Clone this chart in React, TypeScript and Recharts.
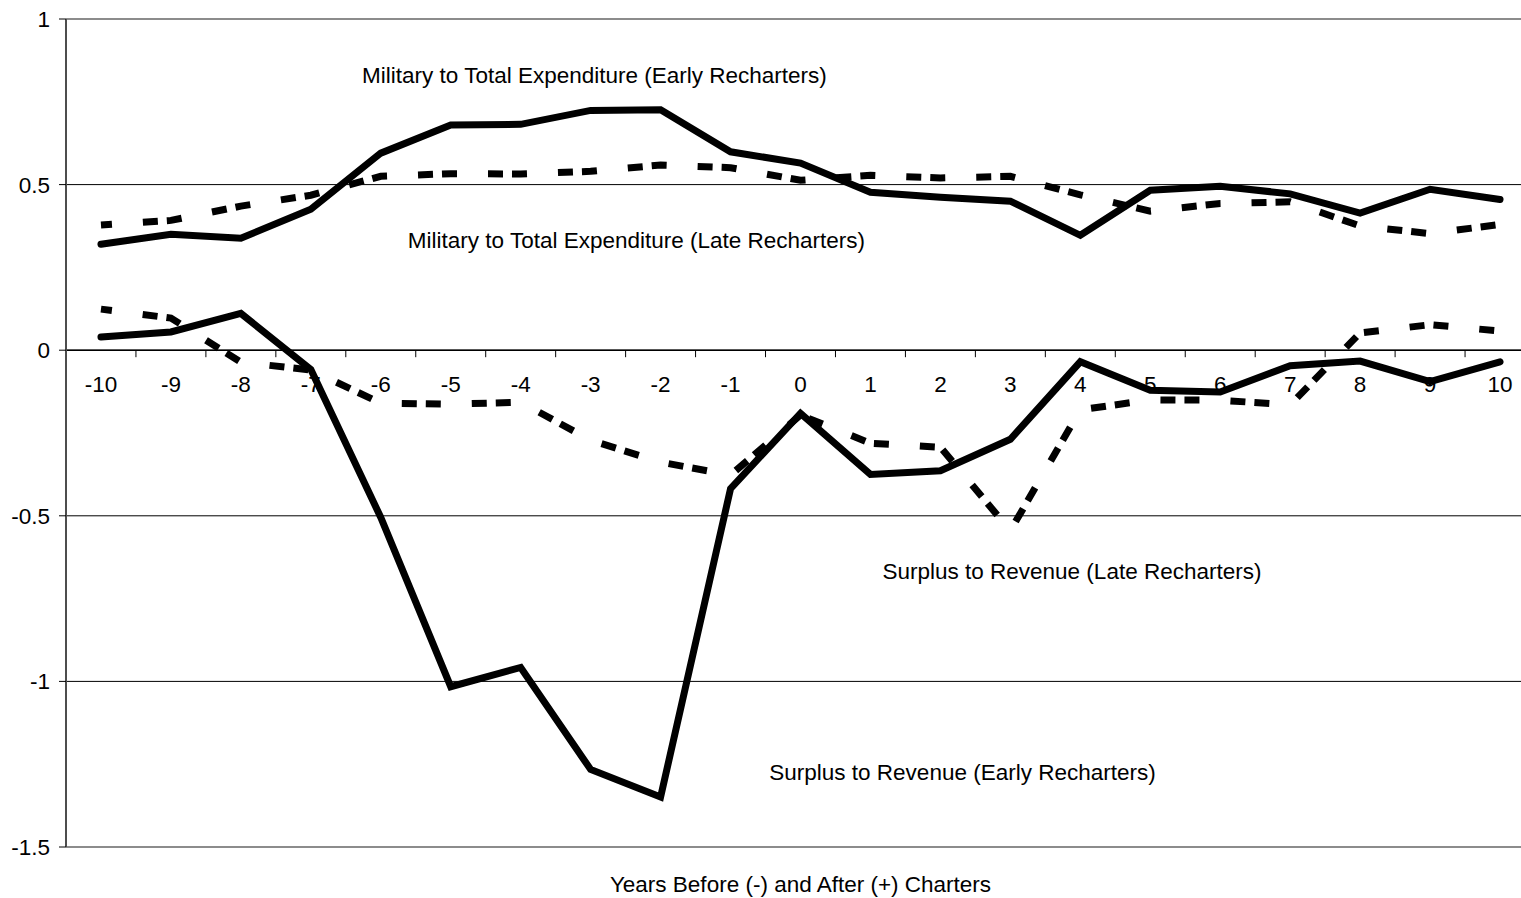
import React from 'react';
import {
  ComposedChart,
  Line,
  Scatter,
  XAxis,
  YAxis,
  CartesianGrid,
  ReferenceLine,
  ReferenceDot,
} from 'recharts';

// years relative to charter
const YEARS = [-10, -9, -8, -7, -6, -5, -4, -3, -2, -1, 0, 1, 2, 3, 4, 5, 6, 7, 8, 9, 10];

const MIL_EARLY = [0.32, 0.35, 0.338, 0.426, 0.595, 0.68, 0.682, 0.724, 0.726, 0.599, 0.565, 0.477, 0.462, 0.45, 0.347, 0.483, 0.495, 0.472, 0.414, 0.486, 0.455];
const MIL_LATE = [0.378, 0.392, 0.435, 0.468, 0.525, 0.533, 0.532, 0.54, 0.559, 0.551, 0.513, 0.528, 0.52, 0.525, 0.469, 0.42, 0.443, 0.448, 0.375, 0.352, 0.38];
const SUR_EARLY = [0.04, 0.055, 0.111, -0.058, -0.505, -1.016, -0.958, -1.266, -1.349, -0.418, -0.191, -0.375, -0.364, -0.269, -0.035, -0.121, -0.126, -0.047, -0.033, -0.095, -0.035];
const SUR_LATE = [0.124, 0.097, -0.036, -0.06, -0.16, -0.163, -0.157, -0.272, -0.338, -0.377, -0.196, -0.281, -0.293, -0.545, -0.18, -0.15, -0.151, -0.165, 0.052, 0.077, 0.058];

const Y_TICKS = [-1.5, -1, -0.5, 0, 0.5, 1];
// tick marks sit between the years on the zero line
const X_BOUNDARIES = [-9.5, -8.5, -7.5, -6.5, -5.5, -4.5, -3.5, -2.5, -1.5, -0.5, 0.5, 1.5, 2.5, 3.5, 4.5, 5.5, 6.5, 7.5, 8.5, 9.5, 10.5];

const X_TITLE = 'Years Before (-) and After (+) Charters';

// series captions, anchored in data coordinates
const CAPTIONS = [
  { text: 'Military to Total Expenditure (Early Recharters)', year: -2.945, value: 0.83 },
  { text: 'Military to Total Expenditure (Late Recharters)', year: -2.345, value: 0.334 },
  { text: 'Surplus to Revenue (Late Recharters)', year: 3.881, value: -0.667 },
  { text: 'Surplus to Revenue (Early Recharters)', year: 2.316, value: -1.274 },
];

const data = YEARS.map((year, i) => ({
  year,
  milEarly: MIL_EARLY[i],
  milLate: MIL_LATE[i],
  surEarly: SUR_EARLY[i],
  surLate: SUR_LATE[i],
}));

const tickMarks = X_BOUNDARIES.map((year) => ({ year, v: 0 }));
const yearLabels = YEARS.map((year) => ({ year, v: 0 }));

const FONT = '"Liberation Sans", Arial, sans-serif';
const FS = 22.5;

const TickMark = (props: any) => {
  const { cx, cy } = props;
  return <line x1={cx} y1={cy} x2={cx} y2={cy + 7} stroke="#000" strokeWidth={1} />;
};

const YearLabel = (props: any) => {
  const { cx, cy, payload } = props;
  return (
    <text x={cx} y={cy + 42} textAnchor="middle" fontSize={FS} fontFamily={FONT} fill="#000">
      {payload.year}
    </text>
  );
};

const DASH = '15 31 15 9';

export default function App() {
  return (
    <div style={{ position: 'absolute', left: 0, top: 0, width: 1521, height: 898, overflow: 'hidden', background: '#fff' }}>
      <ComposedChart
        width={1545}
        height={898}
        data={data}
        margin={{ top: 19, right: 10, bottom: 0, left: 0 }}
        style={{ fontFamily: FONT }}
      >
        <CartesianGrid vertical={false} stroke="#000" strokeWidth={1} />
        <XAxis
          dataKey="year"
          type="number"
          domain={[-10.5, 10.5]}
          allowDataOverflow
          height={51}
          tick={false}
          tickLine={false}
          axisLine={{ stroke: '#8c8c8c', strokeWidth: 2 }}
          label={{ value: X_TITLE, position: 'insideBottom', offset: 6, fill: '#000', fontSize: FS, fontFamily: FONT }}
        />
        <YAxis
          type="number"
          domain={[-1.5, 1]}
          ticks={Y_TICKS}
          interval={0}
          width={66}
          stroke="#000"
          tickSize={7}
          tickMargin={9}
          axisLine={{ stroke: '#4d4d4d', strokeWidth: 2 }}
          tick={{ fill: '#000', fontSize: FS, fontFamily: FONT }}
        />
        <ReferenceLine y={1} stroke="#8c8c8c" strokeWidth={2} />
        <ReferenceLine y={0} stroke="#000" strokeWidth={1.5} />

        <Scatter data={tickMarks} dataKey="v" shape={<TickMark />} isAnimationActive={false} />
        <Scatter data={yearLabels} dataKey="v" shape={<YearLabel />} isAnimationActive={false} />

        <Line
          dataKey="milLate"
          stroke="#000"
          strokeWidth={7}
          strokeDasharray={DASH}
          strokeDashoffset={4}
          strokeLinecap="butt"
          dot={false}
          activeDot={false}
          isAnimationActive={false}
        />
        <Line
          dataKey="surLate"
          stroke="#000"
          strokeWidth={7}
          strokeDasharray={DASH}
          strokeDashoffset={4}
          strokeLinecap="butt"
          dot={false}
          activeDot={false}
          isAnimationActive={false}
        />
        <Line
          dataKey="milEarly"
          stroke="#000"
          strokeWidth={7}
          strokeLinecap="round"
          dot={false}
          activeDot={false}
          isAnimationActive={false}
        />
        <Line
          dataKey="surEarly"
          stroke="#000"
          strokeWidth={7}
          strokeLinecap="round"
          dot={false}
          activeDot={false}
          isAnimationActive={false}
        />

        {CAPTIONS.map((c) => (
          <ReferenceDot
            key={c.text}
            x={c.year}
            y={c.value}
            r={0}
            fill="none"
            stroke="none"
            label={{ value: c.text, position: 'center', fill: '#000', fontSize: FS, fontFamily: FONT }}
          />
        ))}
      </ComposedChart>
    </div>
  );
}
